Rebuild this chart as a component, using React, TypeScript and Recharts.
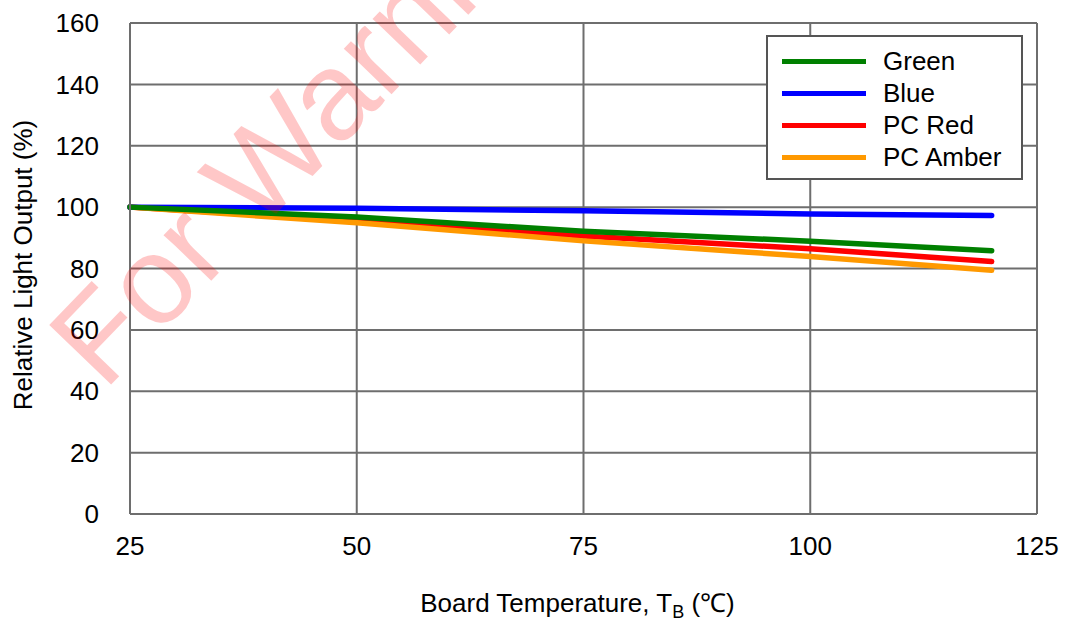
import React from 'react';
import { LineChart, Line, XAxis, YAxis, CartesianGrid, Legend, Label } from 'recharts';

// board temperature (°C) and relative light output (%)
const temps = [25, 50, 75, 100, 120];
const green = [100, 96.8, 92.1, 88.9, 85.8];
const blue = [100, 99.6, 98.8, 97.8, 97.3];
const pcRed = [100, 95.6, 90.6, 86.4, 82.3];
const pcAmber = [100, 94.9, 89.0, 83.9, 79.4];

const xTicks = [25, 50, 75, 100, 125];
const yTicks = [0, 20, 40, 60, 80, 100, 120, 140, 160];

const seriesNames = ['Green', 'Blue', 'PC Red', 'PC Amber'];
const seriesColors = ['#008000', '#0000ff', '#ff0000', '#ff9900'];

const FONT = '"Liberation Sans", Arial, sans-serif';

const data = temps.map((t, i) => ({
  t,
  green: green[i],
  blue: blue[i],
  pcRed: pcRed[i],
  pcAmber: pcAmber[i],
}));

const LegendBox = () => (
  <div
    style={{
      boxSizing: 'border-box',
      width: 257,
      height: 145,
      border: '2px solid #555',
      background: '#fff',
      paddingTop: 8,
      fontFamily: FONT,
      fontSize: 26,
      color: '#000',
    }}
  >
    {seriesNames.map((name, i) => (
      <div key={name} style={{ display: 'flex', alignItems: 'center', height: 32 }}>
        <span
          style={{ display: 'inline-block', marginLeft: 14, width: 84, height: 5, background: seriesColors[i] }}
        />
        <span style={{ marginLeft: 17, lineHeight: 1 }}>{name}</span>
      </div>
    ))}
  </div>
);

const XTitle = (props: any) => {
  const { viewBox } = props;
  const cx = viewBox.x + viewBox.width / 2 - 6;
  return (
    <text x={cx} y={612} textAnchor="middle" fontFamily={FONT} fontSize={26} fill="#000">
      Board Temperature, T
      <tspan fontSize={18} dy={6}>B</tspan>
      <tspan dy={-6}> (℃)</tspan>
    </text>
  );
};

const YTitle = () => (
  <text
    x={32}
    y={265}
    transform="rotate(-90, 32, 265)"
    textAnchor="middle"
    fontFamily={FONT}
    fontSize={26}
    fill="#000"
  >
    Relative Light Output (%)
  </text>
);

const App = () => {
  return (
    <div style={{ position: 'absolute', left: 0, top: 0, width: 1068, height: 621, background: '#fff' }}>
      <LineChart
        width={1068}
        height={621}
        data={data}
        margin={{ top: 23, right: 31, bottom: 17, left: 0 }}
      >
        <CartesianGrid stroke="#6e6e6e" strokeWidth={2} />
        <XAxis
          type="number"
          dataKey="t"
          domain={[25, 125]}
          ticks={xTicks}
          height={90}
          axisLine={{ stroke: '#6e6e6e', strokeWidth: 2 }}
          tickLine={false}
          tickSize={0}
          tickMargin={23}
          tick={{ fill: '#000', fontSize: 26, fontFamily: FONT }}
        >
          <Label content={XTitle} />
        </XAxis>
        <YAxis
          type="number"
          domain={[0, 160]}
          ticks={yTicks}
          width={130}
          axisLine={{ stroke: '#6e6e6e', strokeWidth: 2 }}
          tickLine={false}
          tickSize={0}
          tickMargin={31}
          tick={{ fill: '#000', fontSize: 26, fontFamily: FONT }}
        >
          <Label content={YTitle} />
        </YAxis>
        <Legend
          layout="vertical"
          align="center"
          verticalAlign="middle"
          content={LegendBox}
          wrapperStyle={{ left: 766, top: 35, width: 257, height: 145 }}
        />
        <Line type="linear" dataKey="pcRed" name="PC Red" stroke={seriesColors[2]} strokeWidth={5.5} strokeLinecap="round" dot={false} isAnimationActive={false} />
        <Line type="linear" dataKey="pcAmber" name="PC Amber" stroke={seriesColors[3]} strokeWidth={5.5} strokeLinecap="round" dot={false} isAnimationActive={false} />
        <Line type="linear" dataKey="blue" name="Blue" stroke={seriesColors[1]} strokeWidth={5.5} strokeLinecap="round" dot={false} isAnimationActive={false} />
        <Line type="linear" dataKey="green" name="Green" stroke={seriesColors[0]} strokeWidth={5.5} strokeLinecap="round" dot={false} isAnimationActive={false} />
      </LineChart>
      {/* watermark laid over the plot */}
      <svg
        width={1068}
        height={621}
        style={{ position: 'absolute', left: 0, top: 0, pointerEvents: 'none' }}
      >
        <text
          x={104}
          y={392}
          transform="rotate(-46, 104, 392)"
          fontFamily={FONT}
          fontSize={125}
          fill="rgba(255, 0, 0, 0.22)"
        >
          For Warning Only
        </text>
      </svg>
    </div>
  );
};

export default App;
